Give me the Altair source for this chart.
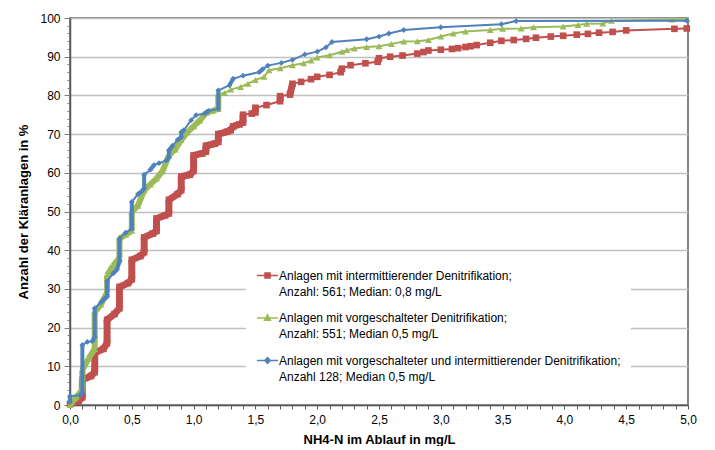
import altair as alt
import pandas as pd

series_names = [
    "Anlagen mit intermittierender Denitrifikation;\nAnzahl: 561; Median: 0,8 mg/L",
    "Anlagen mit vorgeschalteter Denitrifikation;\nAnzahl: 551; Median 0,5 mg/L",
    "Anlagen mit vorgeschalteter und intermittierender Denitrifikation;\nAnzahl 128; Median 0,5 mg/L",
]
colors = ["#C0504D", "#9BBB59", "#4F81BD"]

red_x = [0.0, 0.07, 0.1, 0.1, 0.17, 0.2, 0.2, 0.27, 0.3, 0.3, 0.36, 0.4, 0.4, 0.47, 0.5, 0.5,
         0.57, 0.6, 0.6, 0.67, 0.7, 0.7, 0.77, 0.8, 0.8, 0.87, 0.9, 0.9, 0.97, 1.0, 1.0, 1.07,
         1.1, 1.1, 1.17, 1.2, 1.2, 1.27, 1.3, 1.32, 1.37, 1.4, 1.4, 1.47, 1.5, 1.5, 1.59, 1.7,
         1.7, 1.78, 1.8, 1.87, 1.95, 2.0, 2.1, 2.19, 2.2, 2.27, 2.39, 2.49, 2.5, 2.59, 2.69,
         2.81, 2.86, 2.9, 3.0, 3.09, 3.14, 3.2, 3.24, 3.29, 3.4, 3.49, 3.59, 3.69, 3.77, 3.89,
         3.99, 4.1, 4.19, 4.28, 4.39, 4.5, 4.89, 4.99]
red_y = [0.3, 1.0, 2.0, 6.5, 7.5, 8.5, 13.5, 14.5, 16.0, 22.0, 23.5, 25.0, 30.5, 31.5, 32.5, 37.5,
         38.5, 39.5, 43.3, 44.3, 45.0, 48.2, 49.0, 49.5, 53.0, 54.5, 55.5, 59.0, 59.5, 60.5, 64.5,
         65.0, 65.5, 67.0, 67.5, 68.0, 70.0, 70.6, 71.0, 72.0, 72.5, 73.0, 75.0, 75.3, 75.6, 76.8,
         77.5, 78.5, 79.8, 80.2, 83.0, 83.5, 84.2, 84.8, 85.3, 86.0, 86.9, 87.8, 88.3, 88.7, 89.6,
         90.0, 90.3, 90.8, 91.2, 91.6, 91.8, 92.0, 92.2, 92.5, 92.7, 93.0, 93.6, 94.1, 94.3, 94.6,
         94.9, 95.2, 95.4, 95.7, 95.9, 96.2, 96.4, 96.8, 97.2, 97.3]

green_x = [0.0, 0.05, 0.1, 0.1, 0.15, 0.2, 0.2, 0.25, 0.3, 0.3, 0.35, 0.4, 0.4, 0.45, 0.5, 0.5,
           0.55, 0.6, 0.65, 0.7, 0.75, 0.8, 0.85, 0.9, 0.95, 1.0, 1.05, 1.1, 1.15, 1.2, 1.2,
           1.25, 1.3, 1.38, 1.44, 1.5, 1.57, 1.61, 1.7, 1.8, 1.89, 1.95, 2.0, 2.1, 2.2, 2.24,
           2.3, 2.4, 2.5, 2.6, 2.7, 2.81, 2.9, 3.0, 3.1, 3.2, 3.4, 3.5, 3.65, 3.75, 3.99, 4.11,
           4.18, 4.31, 4.38, 4.87, 4.99]
green_y = [0.0, 2.0, 4.0, 9.0, 12.0, 14.5, 24.0, 26.0, 29.0, 33.5, 36.0, 38.0, 43.0, 44.0, 45.0,
           50.0, 51.5, 55.5, 57.0, 58.5, 60.5, 64.5, 66.0, 68.5, 70.5, 72.0, 73.5, 75.5, 76.0,
           76.5, 80.3, 80.6, 81.5, 82.2, 83.0, 84.0, 84.8, 86.5, 87.0, 87.8, 88.3, 89.0, 89.8,
           90.4, 91.3, 91.7, 92.1, 92.5, 92.7, 93.3, 93.9, 94.0, 94.3, 95.2, 96.0, 96.5, 96.9,
           97.2, 97.3, 97.6, 97.8, 98.2, 98.5, 98.6, 99.3, 99.6, 99.7]

blue_x = [0.0, 0.0, 0.08, 0.1, 0.1, 0.14, 0.18, 0.2, 0.2, 0.25, 0.28, 0.3, 0.3, 0.35, 0.38, 0.4,
          0.4, 0.45, 0.5, 0.5, 0.55, 0.58, 0.6, 0.6, 0.65, 0.68, 0.72, 0.78, 0.8, 0.8, 0.83,
          0.87, 0.9, 0.9, 0.92, 0.98, 1.02, 1.09, 1.12, 1.2, 1.2, 1.29, 1.32, 1.4, 1.53, 1.56,
          1.6, 1.71, 1.8, 1.9, 2.0, 2.07, 2.12, 2.4, 2.5, 2.58, 2.7, 3.0, 3.49, 3.61, 4.99]
blue_y = [0.8, 2.3, 2.5, 3.2, 15.5, 16.3, 16.5, 17.5, 25.0, 26.5, 27.5, 28.0, 32.0, 34.0, 35.0,
          37.0, 43.0, 44.5, 45.5, 52.5, 54.5, 55.2, 56.0, 59.5, 60.8, 62.0, 62.5, 63.2, 64.0,
          65.8, 67.0, 68.5, 69.2, 70.5, 71.0, 73.6, 74.9, 75.3, 76.0, 76.5, 81.3, 82.6, 84.3,
          85.1, 86.0, 86.8, 87.7, 88.4, 89.2, 90.6, 91.3, 92.4, 93.8, 94.5, 95.2, 96.0, 96.9,
          97.6, 98.4, 99.2, 99.3]

series_x = [red_x, green_x, blue_x]
series_y = [red_y, green_y, blue_y]

# styles
shapes = ["square", "triangle-up", "diamond"]
marker_sizes = [44, 48, 34]
stack_widths = [7, 6, 4]
dense_limits = [1.45, 1.22, -1.0]
# legend symbols: line stub + marker (marker outlined twice so it reads as filled)
legend_paths = [
    "M-1,0H1M-0.24,-0.24H0.24V0.24H-0.24ZM-0.1,-0.1H0.1V0.1H-0.1Z",
    "M-1,0H1M0,-0.3L0.28,0.22H-0.28ZM0,-0.1L0.1,0.1H-0.1Z",
    "M-1,0H1M0,-0.28L0.26,0L0,0.28L-0.26,0ZM0,-0.1L0.1,0L0,0.1L-0.1,0Z",
]

FONT = "Liberation Sans"

color_scale = alt.Scale(domain=series_names, range=colors)
x_scale = alt.Scale(domain=[0, 5], nice=False, zero=False)
y_scale = alt.Scale(domain=[0, 100], nice=False)

x_axis = alt.Axis(
    values=[round(i * 0.1, 1) for i in range(51)],
    labelExpr="abs(datum.value * 2 - round(datum.value * 2)) < 0.001 ? replace(format(datum.value, '.1f'), '.', ',') : ''",
    labelOverlap=False,
    labelFlush=False,
    grid=False,
    tickSize=4,
    tickColor="#595959",
    domainColor="#595959",
    domainWidth=1.5,
    labelFont=FONT,
    labelFontSize=12,
    labelColor="#000000",
    labelPadding=5,
    title="NH4-N  im Ablauf in mg/L",
    titleFont=FONT,
    titleFontSize=13,
    titleFontWeight="bold",
    titleColor="#000000",
    titlePadding=8,
)
y_axis = alt.Axis(
    values=list(range(0, 101, 2)),
    labelExpr="datum.value % 10 == 0 ? datum.label : ''",
    labelOverlap=False,
    grid=True,
    gridColor="#BFBFBF",
    gridWidth=1.5,
    gridOpacity={"condition": {"test": "datum.value % 10 == 0", "value": 1}, "value": 0},
    tickSize={"condition": {"test": "datum.value % 10 == 0", "value": 6}, "value": 3},
    tickColor="#808080",
    domainColor="#595959",
    domainWidth=1.5,
    labelFont=FONT,
    labelFontSize=12,
    labelColor="#000000",
    labelPadding=4,
    title="Anzahl der Kläranlagen  in %",
    titleFont=FONT,
    titleFontSize=13,
    titleFontWeight="bold",
    titleColor="#000000",
    titlePadding=9,
)

leg = alt.Legend(
    title=None,
    orient="none",
    legendX=176,
    legendY=236,
    symbolSize=441,
    symbolStrokeWidth=1.5,
    symbolOpacity=1,
    labelExpr="split(datum.label, '\\n')",
    labelFont=FONT,
    labelFontSize=12,
    labelColor="#000000",
    labelLimit=0,
    labelOffset=0,
    rowPadding=8.5,
    padding=10,
    fillColor="white",
)

X = alt.X("x:Q", scale=x_scale, axis=x_axis)
Y = alt.Y("y:Q", scale=y_scale, axis=y_axis)
C = alt.Color("series:N", scale=color_scale, legend=leg)

layers = []
for k, name in enumerate(series_names):
    xv, yv = series_x[k], series_y[k]
    pts = pd.DataFrame({"series": name, "x": xv, "y": yv, "i": list(range(len(xv)))})
    segs = []
    for j in range(1, len(xv)):
        if xv[j] <= dense_limits[k] or abs(xv[j] - xv[j - 1]) < 0.035:
            segs.append({"series": name, "x": xv[j - 1], "y": yv[j - 1], "x2": xv[j], "y2": yv[j]})
    seg = pd.DataFrame(segs)

    line = alt.Chart(pts).mark_line(strokeWidth=2).encode(x=X, y=Y, order="i:Q", color=C)
    stacks = alt.Chart(seg).mark_rule(strokeWidth=stack_widths[k]).encode(
        x=X, y=Y, x2="x2:Q", y2="y2:Q", color=C
    )
    marks = alt.Chart(pts).mark_point(
        shape=shapes[k], filled=True, size=marker_sizes[k], opacity=1
    ).encode(x=X, y=Y, color=C)
    layers += [line, stacks, marks]

legend_df = pd.DataFrame({"series": series_names})
legend_layer = alt.Chart(legend_df).mark_point(opacity=0, filled=False, strokeWidth=1.5).encode(
    color=C,
    shape=alt.Shape("series:N", scale=alt.Scale(domain=series_names, range=legend_paths), legend=leg),
)
layers.append(legend_layer)

chart = alt.layer(*layers).properties(
    width=699,
    height=438,
    autosize=alt.AutoSizeParams(type="fit", contains="padding"),
    padding={"left": 9, "top": 4, "right": 10, "bottom": 0},
).configure(
    style={"guide-label": {"lineHeight": 16}}
).configure_view(
    stroke="#595959",
    strokeWidth=1.5,
)

chart.save("out.html", embed_options={"renderer": "svg", "actions": False})
